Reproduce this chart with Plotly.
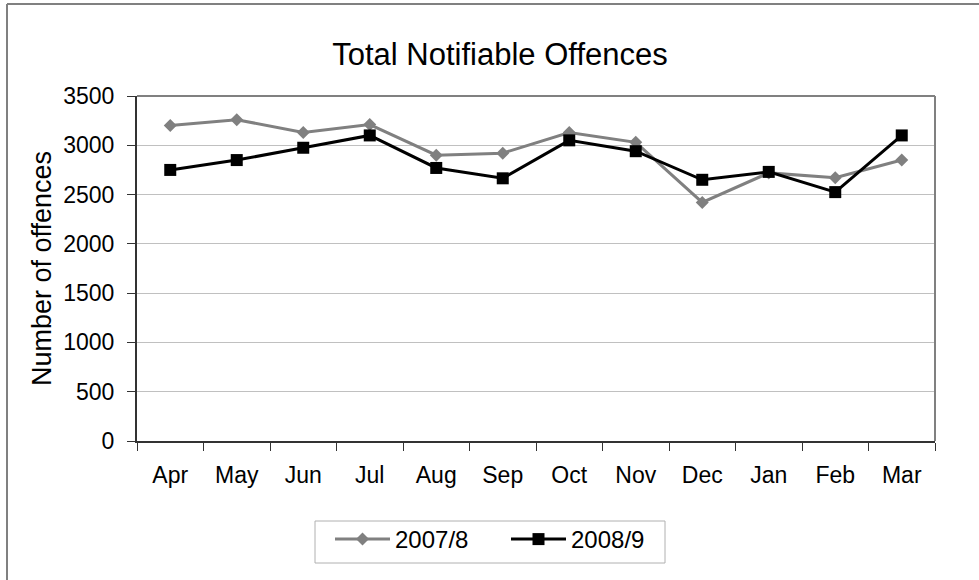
import plotly.graph_objects as go

months = ["Apr", "May", "Jun", "Jul", "Aug", "Sep", "Oct", "Nov", "Dec", "Jan", "Feb", "Mar"]
s2007 = [3200, 3260, 3130, 3210, 2900, 2920, 3130, 3030, 2420, 2720, 2670, 2850]
s2008 = [2750, 2850, 2975, 3100, 2770, 2665, 3050, 2940, 2650, 2730, 2525, 3100]
yticks = [0, 500, 1000, 1500, 2000, 2500, 3000, 3500]

FONT = "Liberation Sans, Arial, sans-serif"
L, R, T, B = 137, 935, 96, 441
PW, PH = R - L, B - T

fig = go.Figure()
fig.add_trace(go.Scatter(x=months, y=s2007, name="2007/8", mode="lines+markers",
                         line=dict(color="#808080", width=3),
                         marker=dict(symbol="diamond", size=10, color="#808080")))
fig.add_trace(go.Scatter(x=months, y=s2008, name="2008/9", mode="lines+markers",
                         line=dict(color="#000000", width=3),
                         marker=dict(symbol="square", size=12, color="#000000")))

fig.update_layout(
    width=979, height=580,
    margin=dict(l=L, r=979 - R, t=T, b=580 - B, autoexpand=False),
    paper_bgcolor="white", plot_bgcolor="white",
    font=dict(family=FONT, size=23, color="black"),
    title=dict(text="Total Notifiable Offences", x=500 / 979, xanchor="center",
               y=1 - 54 / 580, yanchor="middle", font=dict(size=31, family=FONT)),
    showlegend=True,
    legend=dict(orientation="h", x=(330 - L) / PW, xanchor="left", y=(B - 517) / PH, yanchor="top",
                borderwidth=0, bgcolor="rgba(0,0,0,0)", font=dict(size=24),
                itemwidth=55, entrywidth=106, entrywidthmode="pixels"),
    xaxis=dict(range=[-0.5, 11.5], showline=True, linecolor="#333333", linewidth=2, ticks="outside",
               tickson="boundaries", ticklen=8, tickcolor="#333333", tickwidth=1,
               ticklabelstandoff=12,
               mirror=False, showgrid=False, tickfont=dict(size=23), automargin=False),
    yaxis=dict(range=[0, 3500], tickvals=yticks, showline=True, linecolor="#333333",
               linewidth=2, ticks="outside", ticklen=8, tickcolor="#333333",
               ticklabelstandoff=8, automargin=False,
               showgrid=True, gridcolor="#c0c0c0", gridwidth=1, zeroline=False,
               title=dict(text="Number of offences", font=dict(size=27), standoff=4),
               tickfont=dict(size=23)),
)

# plot area frame (top and right, gray)
fig.add_shape(type="line", xref="paper", yref="paper", x0=0, x1=1, y0=1, y1=1,
              line=dict(color="#808080", width=2))
fig.add_shape(type="line", xref="paper", yref="paper", x0=1, x1=1, y0=0, y1=1,
              line=dict(color="#808080", width=2))
# outer chart frame (left and top)
fig.add_shape(type="line", xref="paper", yref="paper",
              x0=(7 - L) / PW, x1=(990 - L) / PW, y0=(B - 4) / PH, y1=(B - 4) / PH,
              line=dict(color="#808080", width=2))
fig.add_shape(type="line", xref="paper", yref="paper",
              x0=(7 - L) / PW, x1=(7 - L) / PW, y0=(B - 4) / PH, y1=(B - 590) / PH,
              line=dict(color="#808080", width=2))
# legend box
fig.add_shape(type="rect", xref="paper", yref="paper",
              x0=(315 - L) / PW, x1=(665 - L) / PW, y0=(B - 521) / PH, y1=(B - 563) / PH,
              line=dict(color="#b0b0b0", width=1), fillcolor="rgba(0,0,0,0)")

fig.write_html("out.html", config={"displayModeBar": False},
               post_script="document.body.style.margin='0px';")
